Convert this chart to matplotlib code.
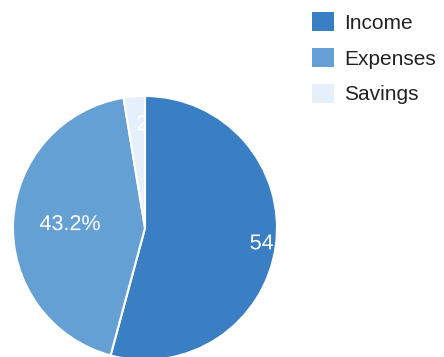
import numpy as np
import matplotlib
matplotlib.use("Agg")
import matplotlib.pyplot as plt
from matplotlib.patches import Patch, PathPatch
from matplotlib.textpath import TextPath
from matplotlib.font_manager import FontProperties
from matplotlib.transforms import Affine2D, ScaledTranslation

categories = ["Income", "Expenses", "Savings"]
values = [54.2, 43.2, 2.6]
colors = ["#3a7fc4", "#65a0d5", "#e6f0fa"]

plt.rcParams['font.family'] = ['Liberation Sans', 'DejaVu Sans']

W, H = 444, 357
fig = plt.figure(figsize=(W / 100, H / 100), dpi=100)
cx, cy, R = 145, 228, 132
ax = fig.add_axes([(cx - R) / W, (H - (cy + R)) / H, 2 * R / W, 2 * R / H])

wedges, _ = ax.pie(values, colors=colors, startangle=90, counterclock=False,
                   radius=1, wedgeprops=dict(edgecolor='white', linewidth=1.5))
ax.set_xlim(-1, 1)
ax.set_ylim(-1, 1)
ax.axis('off')

fp = FontProperties(family='Liberation Sans')
label_size = 15.5
total = sum(values)
start = 90.0
for w, v in zip(wedges, values):
    span = 360.0 * v / total
    mid = np.deg2rad(start - span / 2)
    start -= span
    r = 0.8
    x, y = r * np.cos(mid), r * np.sin(mid)
    tp = TextPath((0, 0), f"{v:.1f}%", size=label_size, prop=fp)
    ext = tp.get_extents()
    tr = (Affine2D().translate(0, -(ext.y0 + ext.y1) / 2).scale(1 / 72)
          + fig.dpi_scale_trans + ScaledTranslation(x, y, ax.transData))
    pp = PathPatch(tp, facecolor='white', edgecolor='none', transform=tr)
    ax.add_artist(pp)
    pp.set_clip_path(w)

handles = [Patch(facecolor=c, edgecolor='none') for c in colors]
fig.legend(handles, categories, loc='upper left', bbox_to_anchor=(312 / W, 1 - 12 / H),
           frameon=False, fontsize=15, handlelength=1.05, handleheight=1.05,
           handletextpad=0.5, labelspacing=0.72, borderpad=0, borderaxespad=0,
           labelcolor='#222222')

fig.savefig("out.png", dpi=100)
